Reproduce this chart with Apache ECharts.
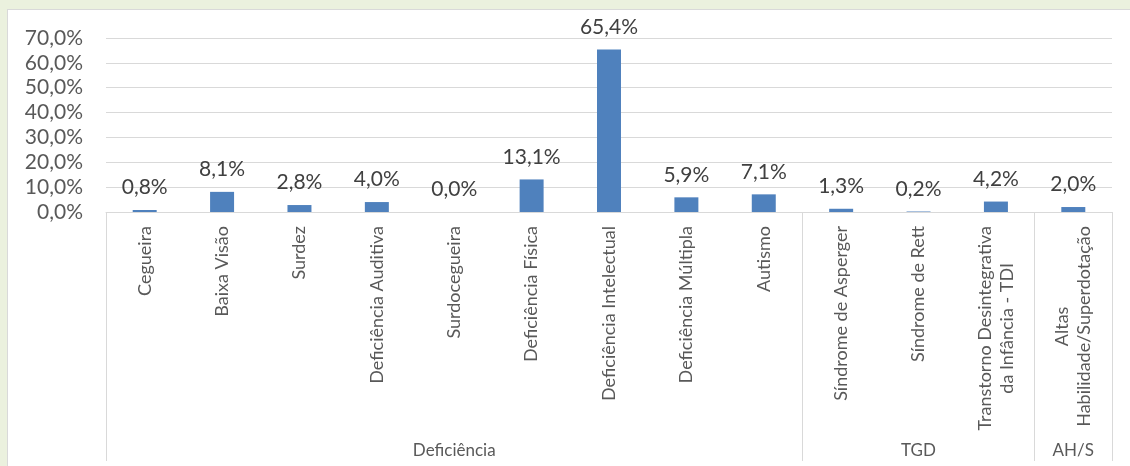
<!DOCTYPE html>
<html><head><meta charset="utf-8">
<script src="https://cdn.jsdelivr.net/npm/echarts@6/dist/echarts.min.js"></script>
<style>
html,body{margin:0;padding:0;width:1130px;height:466px;background:#EBF1DE;overflow:hidden}
#frame{position:absolute;left:7px;top:9px;width:1123px;height:457px;background:#fff;border-left:1px solid #D9D9D9;border-top:1px solid #D9D9D9;box-sizing:border-box}
#chart{position:absolute;left:0;top:0;width:1130px;height:466px}
</style></head><body>
<div id="frame"></div><div id="chart"></div>
<script>
const categories = ['Cegueira','Baixa Visão','Surdez','Deficiência Auditiva','Surdocegueira','Deficiência Física','Deficiência Intelectual','Deficiência Múltipla','Autismo','Síndrome de Asperger','Síndrome de Rett','Transtorno Desintegrativa\nda Infância - TDI','Altas\nHabilidade/Superdotação'];
const values = [0.8, 8.1, 2.8, 4.0, 0.0, 13.1, 65.4, 5.9, 7.1, 1.3, 0.2, 4.2, 2.0];
const groupNames = ['Deficiência','TGD','AH/S'];
const groupSizes = [9, 3, 1];
const yMin = 0, yMax = 70, yStep = 10;

const fmtPct = v => v.toFixed(1).replace('.', ',') + '%';
const groupStarts = new Set();
const groupMid = {};
let s = 0;
groupSizes.forEach((n, g) => { groupStarts.add(s); groupMid[s + Math.floor((n - 1) / 2)] = groupNames[g]; s += n; });

const FONT = 'Lato, "Open Sans", sans-serif';
const chart = echarts.init(document.getElementById('chart'), null, {renderer: 'canvas'});
chart.setOption({
  animation: false,
  backgroundColor: 'transparent',
  grid: {left: 106, right: 18, top: 38, bottom: 254, outerBoundsMode: 'none'},
  xAxis: [{
    type: 'category', data: categories, position: 'bottom',
    axisLine: {show: true, lineStyle: {color: '#D9D9D9', width: 1}},
    axisTick: {show: true, length: 249, interval: (i) => groupStarts.has(i), lineStyle: {color: '#D9D9D9', width: 1}},
    axisLabel: {
      rotate: 90, margin: 14, interval: 0, color: '#595959', fontFamily: FONT, fontSize: 18,
      formatter: v => v.split('\n').map(l => '{c|' + l + '}').join('\n'),
      rich: {c: {align: 'center', color: '#595959', fontFamily: FONT, fontSize: 18, lineHeight: 22}}
    },
    splitLine: {show: false}
  }, {
    type: 'category', data: categories, position: 'bottom', offset: 226,
    axisLine: {show: false}, axisTick: {show: false},
    axisLabel: {interval: (i) => groupMid[i] !== undefined, formatter: (v, i) => groupMid[i] || '', margin: 4,
      color: '#595959', fontFamily: FONT, fontSize: 17}
  }],
  yAxis: {
    type: 'value', min: yMin, max: yMax, interval: yStep,
    axisLine: {show: false}, axisTick: {show: false},
    axisLabel: {formatter: fmtPct, margin: 23, color: '#595959', fontFamily: FONT, fontSize: 21},
    splitLine: {lineStyle: {color: '#D9D9D9', width: 1}}
  },
  series: [{
    type: 'bar', data: values, xAxisIndex: 0, barWidth: '31%',
    itemStyle: {color: '#4F81BD'},
    label: {show: true, position: 'top', distance: 12, formatter: p => fmtPct(p.value),
      color: '#404040', fontFamily: FONT, fontSize: 21}
  }]
});
</script></body></html>
